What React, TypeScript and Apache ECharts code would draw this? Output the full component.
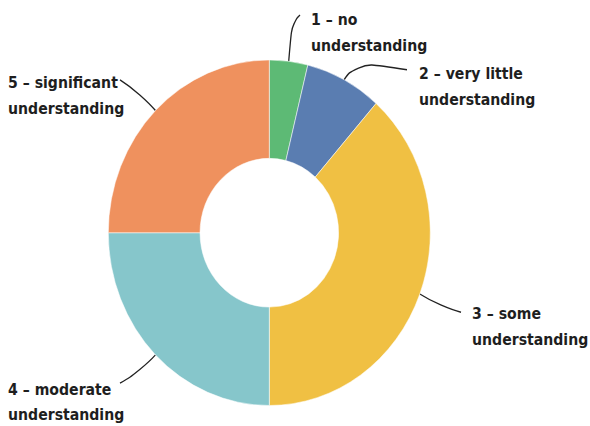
import React, { useEffect, useRef } from "react";
import * as echarts from "echarts";

// ---- data ----
const categories = [
  "1 – no\nunderstanding",
  "2 – very little\nunderstanding",
  "3 – some\nunderstanding",
  "4 – moderate\nunderstanding",
  "5 – significant\nunderstanding",
];
const counts = [2, 4, 20, 13, 13];

// ---- styles / layout ----
const colors = ["#5DBA75", "#5A7DB1", "#F0C043", "#86C6CB", "#EF915E"];
const STRETCH = 1.073; // reference is slightly stretched vertically
const W = 590;
const H = 426 / STRETCH;
// label text anchor (left x, block middle y) in chart px
const labelAnchors: number[][] = [
  [311, 30],
  [419, 80.5],
  [472, 304],
  [8, 374.5],
  [8, 88.5],
];
// label line bend / end points in chart px
const lineBends: number[][][] = [
  [[292, 21], [300, 14]],
  [[356, 57.5], [407, 65]],
  [[440, 286], [461, 291]],
  [[141, 346], [120, 357]],
  [[141, 87], [120, 74.5]],
];

export default function App() {
  const ref = useRef<HTMLDivElement>(null);
  useEffect(() => {
    if (!ref.current) return;
    const chart = echarts.init(ref.current, undefined, { renderer: "svg" });
    chart.setOption({
      animation: false,
      backgroundColor: "#ffffff",
      series: [
        {
          type: "pie",
          center: [269.3, 216.9],
          radius: [69.3, 161],
          startAngle: 90,
          clockwise: true,
          avoidLabelOverlap: false,
          silent: true,
          itemStyle: { borderColor: "#ffffff", borderWidth: 0.5 },
          label: {
            show: true,
            position: "outside",
            color: "#1e1e1e",
            fontFamily: "DejaVu Sans",
            fontWeight: "bold",
            fontSize: 14.1,
            lineHeight: 24,
            align: "left",
          },
          labelLine: {
            show: true,
            smooth: 0.6,
            lineStyle: { color: "#222222", width: 1.3 },
          },
          labelLayout: (params: any) => {
            const i = params.dataIndex;
            const p0 = params.labelLinePoints ? params.labelLinePoints[0] : lineBends[i][0];
            return {
              x: labelAnchors[i][0],
              y: labelAnchors[i][1],
              align: "left",
              verticalAlign: "middle",
              labelLinePoints: [p0, lineBends[i][0], lineBends[i][1]],
            };
          },
          data: categories.map((name, i) => ({
            name,
            value: counts[i],
            itemStyle: { color: colors[i] },
          })),
        },
      ],
    });
    return () => chart.dispose();
  }, []);
  return (
    <div
      style={{
        position: "fixed",
        left: 0,
        top: 0,
        width: W,
        height: 426,
        overflow: "hidden",
        background: "#ffffff",
      }}
    >
      <div
        ref={ref}
        style={{
          width: W,
          height: H,
          transform: `scaleY(${STRETCH})`,
          transformOrigin: "0 0",
        }}
      />
    </div>
  );
}
